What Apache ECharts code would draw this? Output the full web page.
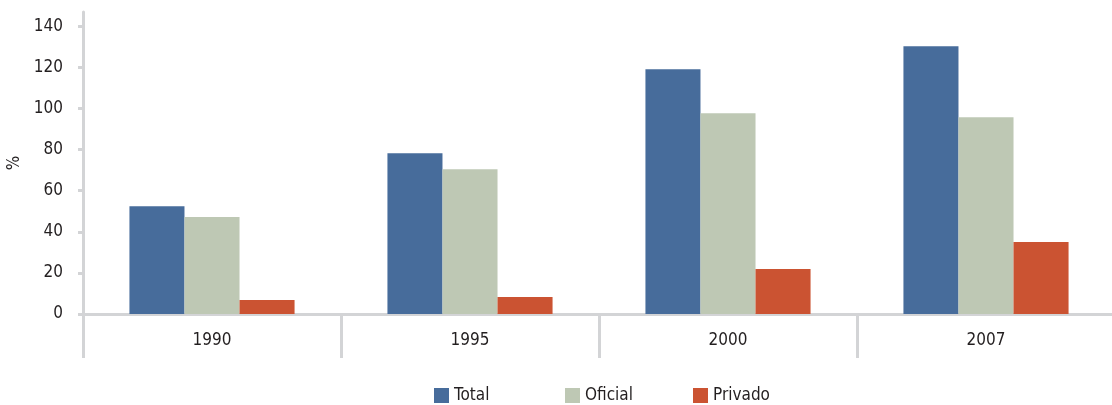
<!DOCTYPE html>
<html>
<head>
<meta charset="utf-8">
<script src="https://cdn.jsdelivr.net/npm/echarts@6/dist/echarts.min.js"></script>
<style>
  html, body { margin: 0; padding: 0; background: #fff; }
  #chart { width: 1112px; height: 405px; }
</style>
</head>
<body>
<div id="chart"></div>
<script>
// 数据
const years = ['1990', '1995', '2000', '2007'];
const totalValues = [52.5, 78.3, 119.1, 130.3];
const oficialValues = [47.2, 70.5, 97.7, 95.8];
const privadoValues = [6.8, 8.3, 21.9, 35.0];
const yTicks = [0, 20, 40, 60, 80, 100, 120, 140];
const seriesNames = ['Total', 'Oficial', 'Privado'];

const FONT = "'Liberation Sans Narrow', 'DejaVu Sans Condensed', sans-serif";
const GRID_LINE = '#d3d4d6';
const legendLeft = [434, 565, 693];

const chart = echarts.init(document.getElementById('chart'));

// 每个图例单独定位
const legends = seriesNames.map((name, i) => ({
    left: legendLeft[i],
    top: 387,
    padding: 0,
    itemWidth: 15,
    itemHeight: 15,
    itemGap: 6,
    icon: 'rect',
    textStyle: { fontFamily: FONT, fontSize: 17, color: '#231f20' },
    data: [name]
}));

chart.setOption({
    animation: false,
    textStyle: { fontFamily: FONT },
    grid: { left: 83, right: -3, top: 12, bottom: 91, outerBoundsMode: 'none', containLabel: false },
    legend: legends,
    xAxis: {
        type: 'category',
        data: years,
        axisLine: { lineStyle: { color: GRID_LINE, width: 3 } },
        axisTick: { show: true, length: 44, lineStyle: { color: GRID_LINE, width: 3 } },
        axisLabel: { fontFamily: FONT, fontSize: 17, color: '#231f20', margin: 18 }
    },
    yAxis: {
        type: 'value',
        min: 0,
        max: 147,
        name: '%',
        nameLocation: 'middle',
        nameGap: 54,
        nameTextStyle: { fontFamily: FONT, fontSize: 17, color: '#231f20' },
        splitLine: { show: false },
        axisLine: { show: true, lineStyle: { color: GRID_LINE, width: 3 } },
        axisTick: { show: true, length: 5, customValues: yTicks, lineStyle: { color: GRID_LINE, width: 3 } },
        axisLabel: { fontFamily: FONT, fontSize: 17, color: '#231f20', margin: 20, customValues: yTicks }
    },
    series: [
        { name: 'Total', type: 'bar', data: totalValues, barCategoryGap: '36%', barGap: '0%', itemStyle: { color: '#476c9b' } },
        { name: 'Oficial', type: 'bar', data: oficialValues, barCategoryGap: '36%', barGap: '0%', itemStyle: { color: '#bec8b4' } },
        { name: 'Privado', type: 'bar', data: privadoValues, barCategoryGap: '36%', barGap: '0%', itemStyle: { color: '#cb5332' } }
    ]
});
</script>
</body>
</html>
